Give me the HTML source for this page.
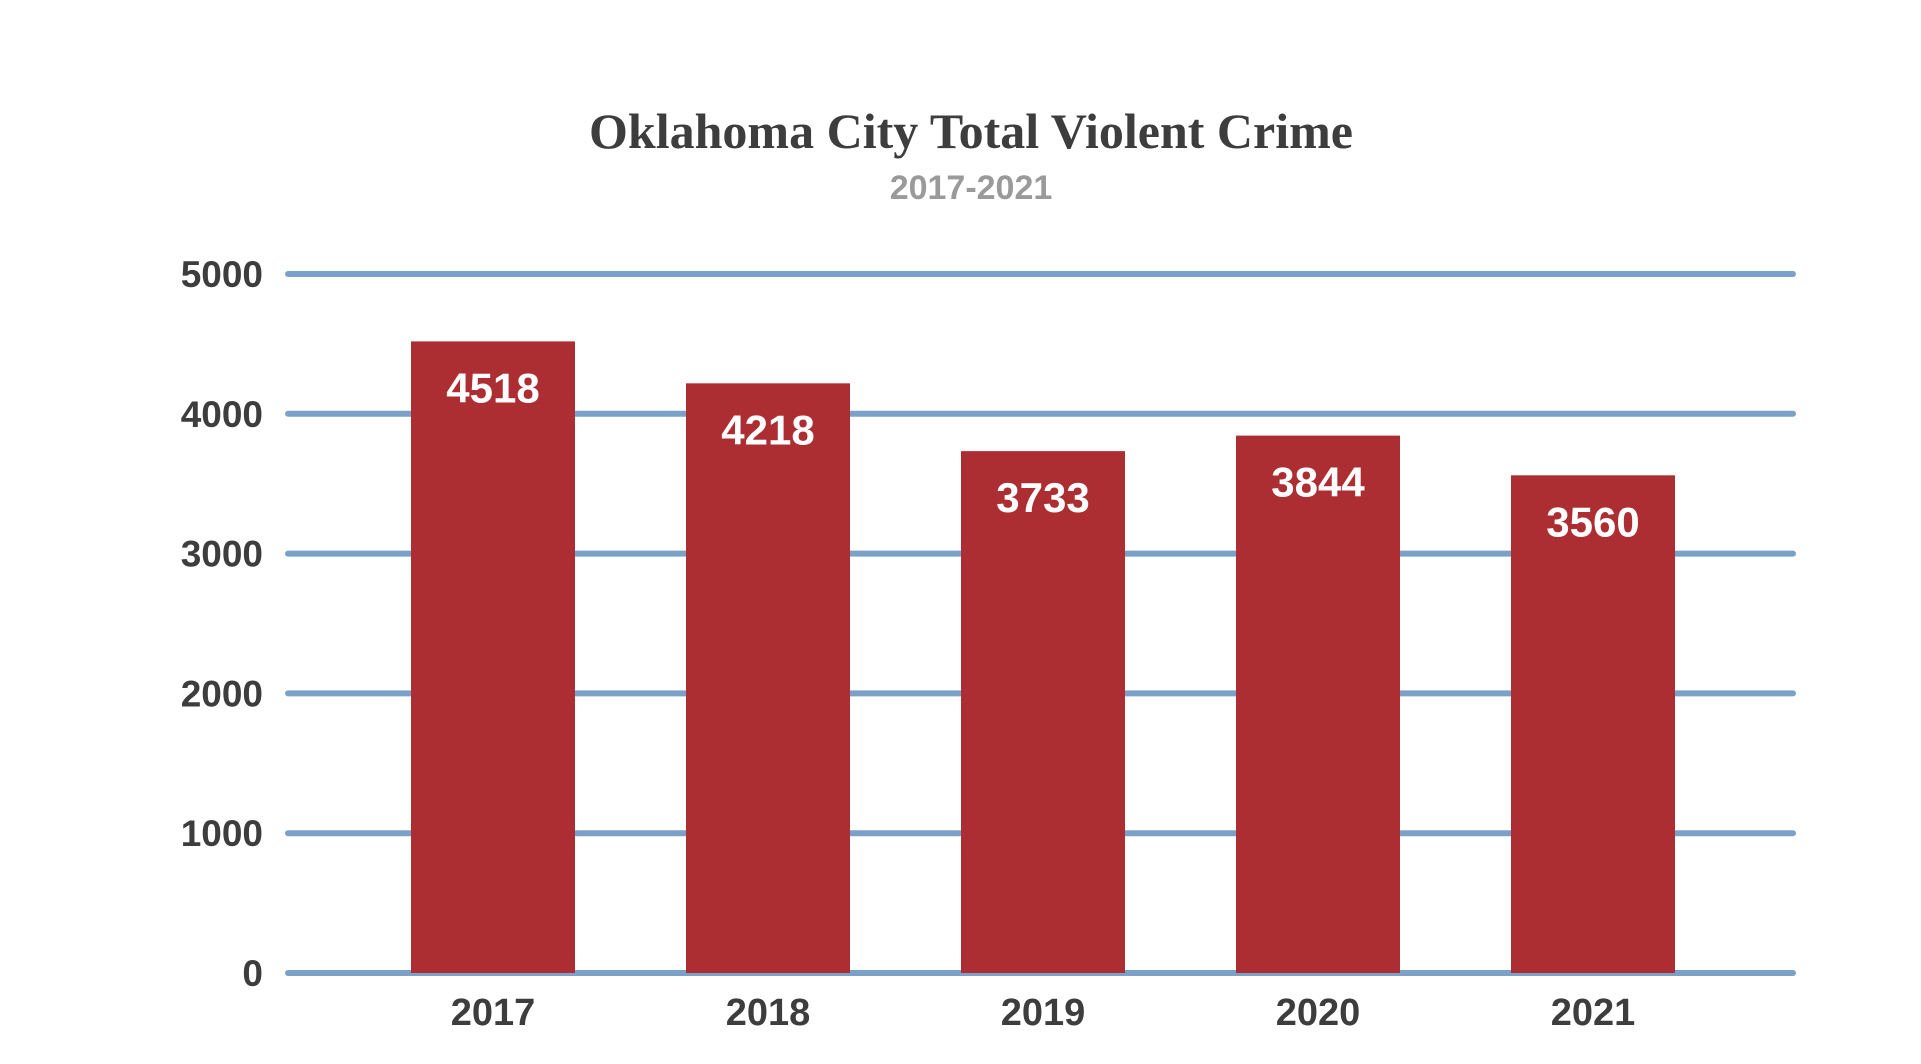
<!DOCTYPE html>
<html><head><meta charset="utf-8"><style>
html,body{margin:0;padding:0;background:#fff;}
svg{display:block;}
</style></head><body>
<svg width="1921" height="1064" viewBox="0 0 1921 1064">
<text x="971" y="148" text-anchor="middle" font-family="Liberation Serif, serif" font-weight="bold" font-size="50" fill="#3d3d3d">Oklahoma City Total Violent Crime</text>
<text x="971" y="199" text-anchor="middle" font-family="Liberation Sans, sans-serif" font-weight="bold" font-size="34" fill="#9a9a9a">2017-2021</text>
<g id="grid"></g><g id="bars"></g><g id="labels"></g>
</svg>
<script>
const categories=["2017","2018","2019","2020","2021"];
const values=[4518,4218,3733,3844,3560];
const yTicks=[0,1000,2000,3000,4000,5000];
const NS="http://www.w3.org/2000/svg";
const x0=288,x1=1793,yTop=274,yBot=973,yMax=5000;
const step=275,barW=164,firstX=411;
function y(v){return yBot-(v/yMax)*(yBot-yTop);}
function xb(i){return firstX+i*step;}
const grid=document.getElementById('grid'),bars=document.getElementById('bars'),labels=document.getElementById('labels');
yTicks.forEach(t=>{
 const l=document.createElementNS(NS,'line');
 l.setAttribute('x1',x0);l.setAttribute('x2',x1);l.setAttribute('y1',y(t));l.setAttribute('y2',y(t));
 l.setAttribute('stroke','#7ba1c9');l.setAttribute('stroke-width','6');l.setAttribute('stroke-linecap','round');
 
 
 grid.appendChild(l);
 const tx=document.createElementNS(NS,'text');
 tx.setAttribute('x',263);tx.setAttribute('y',y(t)+13);tx.setAttribute('text-anchor','end');
 tx.setAttribute('font-family','Liberation Sans, sans-serif');tx.setAttribute('font-weight','bold');tx.setAttribute('font-size','37');tx.setAttribute('fill','#3d3d3d');
 tx.textContent=t;
 
 
 labels.appendChild(tx);
});
values.forEach((v,i)=>{
 const r=document.createElementNS(NS,'rect');
 r.setAttribute('x',xb(i));r.setAttribute('y',y(v));r.setAttribute('width',barW);r.setAttribute('height',yBot-y(v));r.setAttribute('fill','#ad2e32');
 
 
 bars.appendChild(r);
 const vt=document.createElementNS(NS,'text');
 vt.setAttribute('x',xb(i)+barW/2);vt.setAttribute('y',y(v)+61);vt.setAttribute('text-anchor','middle');
 vt.setAttribute('font-family','Liberation Sans, sans-serif');vt.setAttribute('font-weight','bold');vt.setAttribute('font-size','42');vt.setAttribute('fill','#fff');
 vt.textContent=v;
 
 
 labels.appendChild(vt);
 const ct=document.createElementNS(NS,'text');
 ct.setAttribute('x',xb(i)+barW/2);ct.setAttribute('y',1025);ct.setAttribute('text-anchor','middle');
 ct.setAttribute('font-family','Liberation Sans, sans-serif');ct.setAttribute('font-weight','bold');ct.setAttribute('font-size','38');ct.setAttribute('fill','#3d3d3d');
 ct.textContent=categories[i];
 
 
 labels.appendChild(ct);
});
</script>
</body></html>
